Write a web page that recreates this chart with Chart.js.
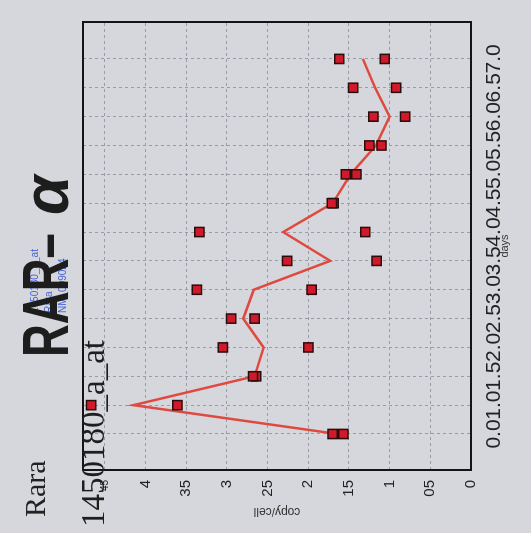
<!DOCTYPE html>
<html>
<head>
<meta charset="utf-8">
<script src="https://cdn.jsdelivr.net/npm/chart.js@4.4.1/dist/chart.umd.min.js"></script>
<style>
  html, body { margin: 0; padding: 0; width: 531px; height: 533px; overflow: hidden; background: #d5d7dc; }
  /* the scanned sheet is lying on its side, so the whole chart is turned a quarter left */
  #sheet { position: absolute; left: -1px; top: 1px; width: 533px; height: 531px; transform: rotate(-90deg); }
  #sheet canvas { position: absolute; left: 0; top: 0; }
  .lbl { position: absolute; white-space: nowrap; }
  #gene { left: 16px; top: 20px; font: 30px/30px "Liberation Serif", serif; color: #222; }
  #probe { left: 6px; top: 77px; font: 33px/33px "Liberation Serif", serif; color: #1e1e1e; }
  #rar { left: 176px; top: 14px; font: bold 64px/64px "Liberation Sans", sans-serif; color: #1d1d1d;
         transform: scaleX(0.71); transform-origin: 0 0; }
  #alpha { left: 318px; top: 14px; font: italic bold 64px/64px "Liberation Sans", sans-serif; color: #1d1d1d; }
  #stamp { left: 220px; top: 28px; font: 10px/14px "Liberation Sans", sans-serif; color: #4660d8; }
</style>
</head>
<body>
<div id="sheet">
  <canvas id="chart" width="533" height="531"></canvas>
  <div class="lbl" id="stamp">1450180_a_at<br>Rara<br>NM_009024</div>
  <div class="lbl" id="rar">RAR–</div>
  <div class="lbl" id="alpha">α</div>
  <div class="lbl" id="gene">Rara</div>
  <div class="lbl" id="probe">1450180_a_at</div>
</div>
<script>
const dayLabels = ["0.0", "1.0", "1.5", "2.0", "2.5", "3.0", "3.5", "4.0", "4.5", "5.0", "5.5", "6.0", "6.5", "7.0"];
const rep1 = [1.70, 4.67, 2.68, 3.05, 2.95, 3.37, 2.26, 3.34, 1.71, 1.54, 1.25, 1.20, 1.45, 1.62];
const rep2 = [1.57, 3.61, 2.64, 2.00, 2.66, 1.96, 1.16, 1.30, 1.69, 1.41, 1.10, 0.81, 0.92, 1.06];
const meanLine = [1.64, 4.15, 2.66, 2.55, 2.80, 2.67, 1.73, 2.31, 1.70, 1.48, 1.17, 1.00, 1.18, 1.33];
const copyTicks = [0, 0.5, 1, 1.5, 2, 2.5, 3, 3.5, 4, 4.5];

const toPoints = (arr) => arr.map((v, i) => ({ x: i, y: v }));

const markerStyle = {
  showLine: false,
  pointStyle: "rect",
  pointRadius: 6.5,
  backgroundColor: "#d01a2b",
  borderColor: "#2a0c0c",
  borderWidth: 1.5,
  order: 1,
};

// black box round the plot area
const framePlugin = {
  id: "frame",
  beforeDatasetsDraw(chart) {
    const { ctx, chartArea: a } = chart;
    ctx.save();
    ctx.strokeStyle = "#141414";
    ctx.lineWidth = 2;
    ctx.strokeRect(a.left, a.top, a.right - a.left, a.bottom - a.top);
    ctx.restore();
  },
};

const ctx = document.getElementById("chart").getContext("2d");
new Chart(ctx, {
  type: "scatter",
  data: {
    datasets: [
      {
        type: "line",
        data: toPoints(meanLine),
        borderColor: "#e0493f",
        borderWidth: 2.5,
        pointRadius: 0,
        fill: false,
        tension: 0,
        order: 2,
      },
      { data: toPoints(rep1), ...markerStyle },
      { data: toPoints(rep2), ...markerStyle },
    ],
  },
  options: {
    responsive: false,
    animation: false,
    layout: { padding: { top: 83, right: 22, left: 10, bottom: 0 } },
    plugins: { legend: { display: false }, tooltip: { enabled: false } },
    scales: {
      x: {
        type: "linear",
        min: -1.248,
        max: 14.28,
        afterBuildTicks: (s) => { s.ticks = dayLabels.map((_, i) => ({ value: i })); },
        afterFit: (s) => { s.height = 60; },
        grid: { color: "#9a9ca3", lineWidth: 1, drawTicks: false },
        border: { display: false, dash: [3, 3] },
        ticks: {
          autoSkip: false,
          maxRotation: 0,
          minRotation: 0,
          padding: 11,
          color: "#222",
          font: { family: "Liberation Sans", size: 21 },
          callback: (v) => dayLabels[v],
        },
        title: {
          display: true,
          text: "days",
          color: "#333",
          font: { family: "Liberation Sans", size: 11 },
          padding: { top: 0, bottom: 19 },
        },
      },
      y: {
        min: 0,
        max: 4.77,
        afterBuildTicks: (s) => { s.ticks = copyTicks.map((v) => ({ value: v })); },
        afterFit: (s) => { s.width = 53; },
        grid: { color: "#9a9ca3", lineWidth: 1, drawTicks: false },
        border: { display: false, dash: [3, 3] },
        ticks: {
          padding: 10,
          color: "#222",
          font: (c) => ({ family: "Liberation Sans", size: c.tick && c.tick.value === 4.5 ? 10 : 15 }),
          callback: (v) => String(v).replace(".", ""),
        },
        title: {
          display: true,
          text: "copy/cell",
          color: "#333",
          font: { family: "Liberation Sans", size: 12 },
          padding: { top: 4, bottom: 0 },
        },
      },
    },
  },
  plugins: [framePlugin],
});
</script>
</body>
</html>
